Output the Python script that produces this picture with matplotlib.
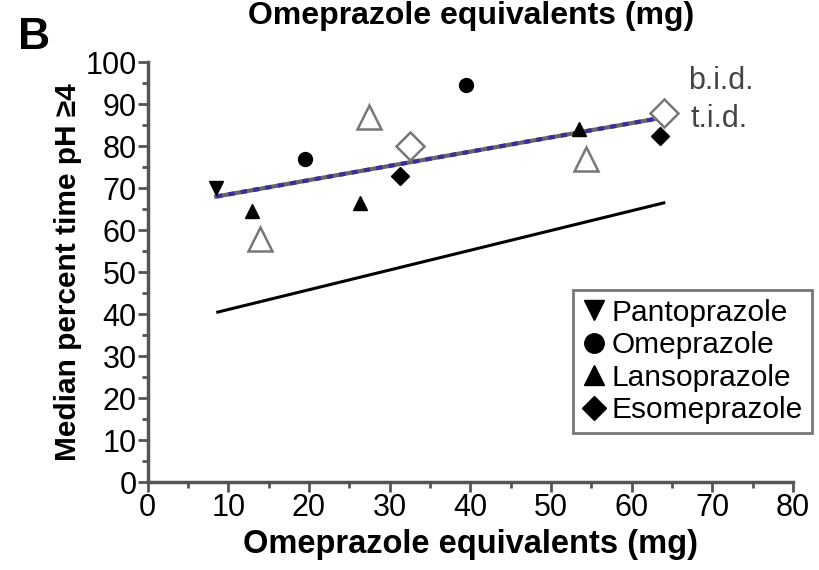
import matplotlib
matplotlib.use('Agg')
import matplotlib.pyplot as plt
from matplotlib.ticker import MultipleLocator

plt.rcParams['font.family'] = ['Liberation Sans', 'DejaVu Sans']

# b.i.d. dosing (filled markers)
panto_x, panto_y = [8.5], [70]
omep_x, omep_y = [19.5, 39.5], [77, 94.5]
lanso_x, lanso_y = [13, 26.3, 53.5], [64.5, 66.5, 84]
esom_x, esom_y = [31.3, 63.5], [73, 82.5]

# t.i.d. dosing (open markers)
lanso_tid_x, lanso_tid_y = [13.9, 27.4, 54.3], [58, 87, 77]
esom_tid_x, esom_tid_y = [32.5, 64], [80, 88]

# regression lines
bid_fit_x, bid_fit_y = [8.5, 63], [68, 86.5]
ref_line_x, ref_line_y = [8.7, 64], [40.5, 66.5]

fig = plt.figure(figsize=(8.2, 5.7), dpi=100)
ax = fig.add_axes([0.180, 0.154, 0.787, 0.737])

ax.plot(ref_line_x, ref_line_y, color='black', lw=2.2)
ax.plot(bid_fit_x, bid_fit_y, color='#666666', lw=3)
ax.plot(bid_fit_x, bid_fit_y, color='#3a2d9c', lw=3, ls=(0, (1.5, 1.5)))

ms = 10
ax.plot(panto_x, panto_y, 'v', color='black', ms=ms, ls='none', label='Pantoprazole')
ax.plot(omep_x, omep_y, 'o', color='black', ms=ms, ls='none', label='Omeprazole')
ax.plot(lanso_x, lanso_y, '^', color='black', ms=ms, ls='none', label='Lansoprazole')
ax.plot(esom_x, esom_y, 'D', color='black', ms=ms - 1, ls='none', label='Esomeprazole')

ax.plot(lanso_tid_x, lanso_tid_y, '^', mfc='white', mec='#777777', mew=1.8, ms=17, ls='none')
ax.plot(esom_tid_x, esom_tid_y, 'D', mfc='white', mec='#777777', mew=1.8, ms=14, ls='none')

ax.text(67.0, 95.5, 'b.i.d.', fontsize=22, color='#444444', va='center')
ax.text(67.3, 86.5, 't.i.d.', fontsize=22, color='#444444', va='center')

ax.set_xlim(0, 80)
ax.set_ylim(0, 100)
ax.xaxis.set_major_locator(MultipleLocator(10))
ax.xaxis.set_minor_locator(MultipleLocator(5))
ax.yaxis.set_major_locator(MultipleLocator(10))
ax.yaxis.set_minor_locator(MultipleLocator(5))
for s in ['top', 'right']:
    ax.spines[s].set_visible(False)
for s in ['left', 'bottom']:
    ax.spines[s].set_linewidth(2.5)
    ax.spines[s].set_color('#555555')
ax.tick_params(which='major', length=7, width=2, color='#555555', labelsize=22, pad=1)
ax.tick_params(which='minor', length=4, width=2, color='#555555')

ax.set_xlabel('Omeprazole equivalents (mg)', fontsize=23.5, fontweight='bold', labelpad=4)
ax.set_ylabel('Median percent time pH \u22654', fontsize=21.5, fontweight='bold', labelpad=2)

fig.text(0.574, 0.972, 'Omeprazole equivalents (mg)', fontsize=23, fontweight='bold',
         ha='center', va='center')
fig.text(0.022, 0.935, 'B', fontsize=32, fontweight='bold', ha='left', va='center')

leg = fig.legend(loc='lower right', bbox_to_anchor=(0.99, 0.24), fontsize=21.5,
                 frameon=True, fancybox=False, edgecolor='#555555', handlelength=0.8,
                 markerscale=1.4, handletextpad=0.2, borderpad=0.3, labelspacing=0.15,
                 borderaxespad=0)
leg.get_frame().set_linewidth(2)

fig.savefig('out.png', dpi=100)
